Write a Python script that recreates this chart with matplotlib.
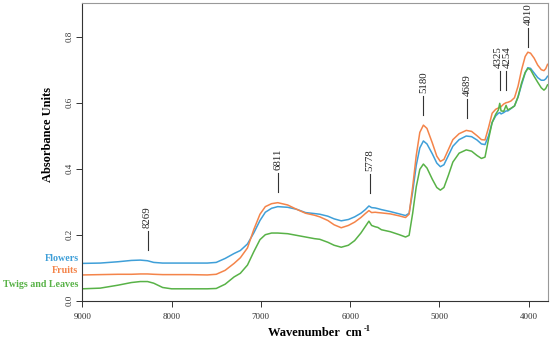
import matplotlib
matplotlib.use('Agg')
from matplotlib import pyplot as plt
from matplotlib.transforms import offset_copy

# wavenumbers (cm-1)
wn = [9000, 8800, 8600, 8450, 8350, 8269, 8200, 8100, 8000, 7800, 7600, 7500, 7400, 7300,
      7230, 7150, 7080, 7010, 6950, 6880, 6811, 6700, 6600, 6500, 6400, 6340, 6250, 6180,
      6100, 6020, 5950, 5880, 5830, 5790, 5760, 5720, 5690, 5650, 5550, 5450, 5380, 5340,
      5300, 5260, 5220, 5180, 5140, 5080, 5030, 4990, 4950, 4900, 4850, 4780, 4700, 4640,
      4580, 4530, 4490, 4450, 4410, 4370, 4340, 4325, 4310, 4280, 4254, 4235, 4200, 4160,
      4120, 4080, 4040, 4010, 3980, 3940, 3900, 3860, 3830, 3810, 3790]

flowers = [0.113, 0.114, 0.118, 0.122, 0.123, 0.121, 0.116, 0.114, 0.114, 0.114, 0.114, 0.116,
           0.128, 0.143, 0.152, 0.172, 0.205, 0.243, 0.268, 0.280, 0.285, 0.283, 0.277, 0.267,
           0.264, 0.262, 0.256, 0.248, 0.242, 0.246, 0.254, 0.265, 0.276, 0.287, 0.282, 0.281,
           0.279, 0.276, 0.270, 0.263, 0.258, 0.265, 0.330, 0.410, 0.463, 0.484, 0.475, 0.445,
           0.417, 0.406, 0.412, 0.440, 0.468, 0.488, 0.499, 0.497, 0.487, 0.475, 0.473, 0.500,
           0.540, 0.560, 0.568, 0.570, 0.566, 0.570, 0.575, 0.575, 0.582, 0.590, 0.617, 0.655,
           0.690, 0.706, 0.704, 0.690, 0.676, 0.668, 0.668, 0.672, 0.680]

fruits = [0.078, 0.079, 0.080, 0.080, 0.081, 0.081, 0.080, 0.079, 0.079, 0.079, 0.078, 0.080,
          0.092, 0.113, 0.130, 0.160, 0.215, 0.262, 0.285, 0.294, 0.297, 0.290, 0.277, 0.265,
          0.259, 0.254, 0.243, 0.230, 0.221, 0.228, 0.238, 0.252, 0.264, 0.273, 0.267, 0.268,
          0.267, 0.266, 0.263, 0.257, 0.252, 0.262, 0.345, 0.440, 0.510, 0.532, 0.522, 0.478,
          0.438, 0.422, 0.428, 0.458, 0.488, 0.506, 0.516, 0.513, 0.500, 0.488, 0.487, 0.525,
          0.568, 0.580, 0.584, 0.585, 0.588, 0.596, 0.600, 0.601, 0.605, 0.615, 0.650, 0.700,
          0.740, 0.753, 0.750, 0.735, 0.714, 0.700, 0.697, 0.703, 0.716]

twigs = [0.036, 0.038, 0.047, 0.055, 0.058, 0.058, 0.053, 0.040, 0.036, 0.036, 0.036, 0.037,
         0.050, 0.072, 0.083, 0.108, 0.148, 0.185, 0.200, 0.205, 0.205, 0.203, 0.198, 0.193,
         0.188, 0.186, 0.177, 0.168, 0.162, 0.168, 0.182, 0.205, 0.225, 0.241, 0.228, 0.224,
         0.222, 0.215, 0.209, 0.200, 0.193, 0.198, 0.265, 0.345, 0.398, 0.414, 0.402, 0.368,
         0.343, 0.335, 0.343, 0.380, 0.420, 0.447, 0.457, 0.453, 0.440, 0.431, 0.435, 0.490,
         0.540, 0.565, 0.578, 0.598, 0.575, 0.574, 0.592, 0.578, 0.583, 0.590, 0.618, 0.660,
         0.692, 0.704, 0.700, 0.680, 0.662, 0.645, 0.638, 0.643, 0.654]

series_names = ['Flowers', 'Fruits', 'Twigs and Leaves']
series_colors = ['#3f9fd8', '#f4844a', '#58b247']
series_label_y = [0.128, 0.090, 0.048]

peak_wn = [8269, 6811, 5778, 5180, 4689, 4325, 4254, 4010]
peak_base = [0.154, 0.329, 0.326, 0.563, 0.554, 0.638, 0.638, 0.769]

serif = ['Liberation Serif', 'DejaVu Serif']
plt.rcParams['font.family'] = serif

fig = plt.figure(figsize=(5.5, 3.44), dpi=100)
ax = fig.add_axes([0.1496, 0.1259, 0.8462, 0.8663])

for vals, c in zip([flowers, fruits, twigs], series_colors):
    ax.plot(wn, vals, color=c, lw=1.1)

ax.set_xlim(9000, 3788)
ax.set_ylim(0, 0.903)

# peak markers: short vertical tick with rotated label above
for w, b in zip(peak_wn, peak_base):
    ax.plot([w, w], [b, b + 0.058], color='#333333', lw=0.8)
    nudge = {4325: -1.0, 4254: 1.0}.get(w, 0.0)
    tr = offset_copy(ax.transData, fig=fig, x=nudge, y=0, units='points')
    ax.text(w, b + 0.066, str(w), rotation=90, ha='center', va='bottom',
            fontsize=7.8, color='#222222', transform=tr)

# series names on the left, outside axes
for name, c, y in zip(series_names, series_colors, series_label_y):
    ax.text(-0.008, y, name, transform=ax.get_yaxis_transform(), ha='right', va='center',
            fontsize=7.2, fontweight='bold', color=c)

ax.set_xticks([9000, 8000, 7000, 6000, 5000, 4000])
ax.set_yticks([0.0, 0.2, 0.4, 0.6, 0.8])
ax.set_yticklabels(['0.0', '0.2', '0.4', '0.6', '0.8'], rotation=90, va='center')
ax.tick_params(labelsize=6.5, labelcolor='#333333', length=4, width=0.7, color='#333333')
ax.tick_params(axis='x', pad=5)
ax.tick_params(axis='y', pad=2)

for s in ['top', 'right']:
    ax.spines[s].set_color('#999999')
for s in ['left', 'bottom']:
    ax.spines[s].set_color('#333333')
for s in ax.spines.values():
    s.set_linewidth(0.8)

# x label with a small superscript placed right after it
xl = fig.text(0.488, 0.031, 'Wavenumber  cm', ha='left', va='center',
              fontsize=9, fontweight='bold')
fig.canvas.draw()
bb = xl.get_window_extent().transformed(fig.transFigure.inverted())
fig.text(bb.x1 + 0.002, 0.045, '-1', ha='left', va='center', fontsize=6, fontweight='bold')

fig.text(0.087, 0.61, 'Absorbance Units', rotation=90, ha='center', va='center',
         fontsize=9, fontweight='bold')

fig.savefig('out.png', dpi=100)
